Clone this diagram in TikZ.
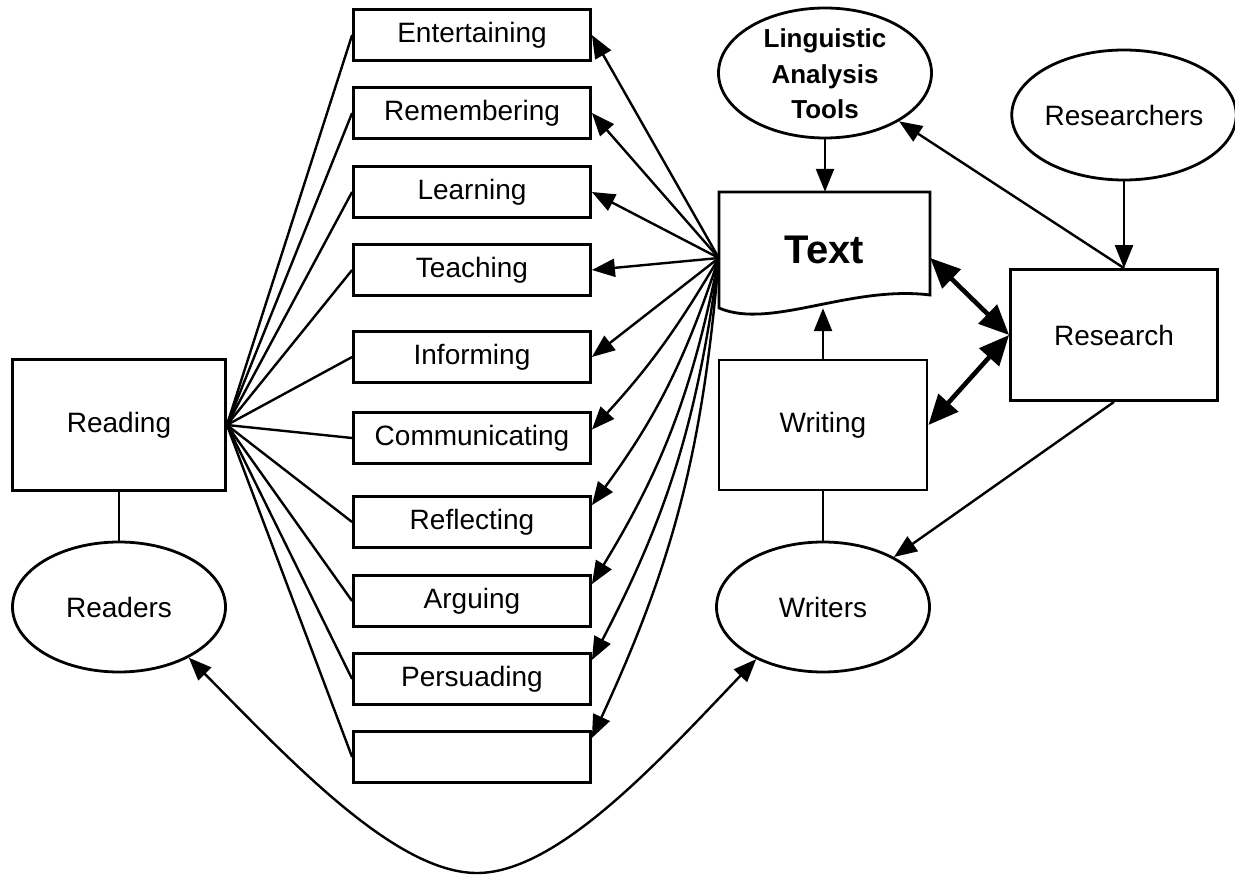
\documentclass[tikz,border=0pt]{standalone}
\usepackage{fontspec}
\setmainfont{Liberation Sans}
\usetikzlibrary{arrows.meta,shapes.geometric,calc}
\begin{document}
\begin{tikzpicture}[x=1pt,y=-1pt,
  every node/.style={font=\fontsize{28}{34}\selectfont, inner sep=0pt},
  box/.style={draw, line width=2.8pt, minimum width=237pt, minimum height=51pt},
  bigbox/.style={draw, line width=2.8pt, minimum width=213pt, minimum height=131pt},
  oval/.style={draw, ellipse, line width=2.8pt, minimum width=213pt, minimum height=130pt},
  link/.style={line width=2.4pt},
  arr/.style={link, -{Triangle[length=23pt,width=18pt]}},
  dbl/.style={line width=4.6pt, {Triangle[length=30pt,width=26pt]}-{Triangle[length=30pt,width=26pt]}},
]
\fill[white] (0,0) rectangle (1235,877);
\useasboundingbox (0,0) rectangle (1235,877);

% left side: reading and readers
\node[bigbox] (rdg) at (119,425) {Reading};
\node[oval] (rdr) at (119,607) {Readers};

% column of purposes
\node[box] (b1)  at (472,35)  {Entertaining};
\node[box] (b2)  at (472,113) {Remembering};
\node[box] (b3)  at (472,192) {Learning};
\node[box] (b4)  at (472,270) {Teaching};
\node[box] (b5)  at (472,357) {Informing};
\node[box] (b6)  at (472,438) {Communicating};
\node[box] (b7)  at (472,522) {Reflecting};
\node[box] (b8)  at (472,601) {Arguing};
\node[box] (b9)  at (472,679) {Persuading};
\node[box] (b10) at (472,757) {};

% the text document
\node[minimum width=211pt, minimum height=116pt, font=\bfseries\fontsize{40}{48}\selectfont] (txt) at (824.5,250) {Text};
\draw[line width=2.8pt, line join=miter] (719,308) -- (719,192) -- (930,192) -- (930,295)
  .. controls (850,285) and (770,330) .. (719,308) -- cycle;
\coordinate (fan) at ($(txt.west)+(0,8)$);
\coordinate (txtE) at ($(txt.east)+(0,8)$);

% right side
\node[bigbox, minimum width=208pt, minimum height=130pt] (wri) at (823,425) {Writing};
\node[oval] (wtr) at (823,607) {Writers};
\node[draw, line width=2.8pt, minimum width=207pt, minimum height=131pt] (res) at (1114,335) {Research};
\node[oval] (rsr) at (1124,115) {Researchers};
\node[oval] (ling) at (825,73) {};
\node[font=\bfseries\fontsize{26}{35.5}\selectfont, align=center] (lingtxt) at (825,74) {Linguistic\\Analysis\\Tools};
\coordinate (resTop) at (rsr.south |- res.north);

% reading fans out to every purpose
\draw[link] (rdg.south) -- (rdr.north);
\foreach \i in {1,...,10} \draw[link] (rdg.east) -- (b\i.west);

% text feeds every purpose
\foreach \i in {1,...,5} \draw[arr] (fan) -- (b\i.east);
\draw[arr] (fan) to[bend left=6] (b6.4);
\draw[arr] (fan) to[bend left=9] (b7.8);
\draw[arr] (fan) to[bend left=10] (b8.8);
\draw[arr] (fan) to[bend left=10] (b9.9);
\draw[arr] (fan) to[bend left=10] (b10.9);

% writing, tools and research
\draw[link] (wri.south) -- (wtr.north);
\draw[arr] (wri.north) -- (wri.north |- txt.south);
\draw[arr] (ling.south) -- (ling.south |- txt.north);
\draw[arr] (rsr.south) -- (resTop);
\draw[arr] (resTop) -- (ling);
\draw[arr] (res.south) -- (wtr);
\draw[dbl] (txtE) -- (res.west);
\draw[dbl] (wri.east) -- (res.west);

% readers and writers linked underneath
\draw[link, {Triangle[length=23pt,width=18pt]}-{Triangle[length=23pt,width=18pt]}]
  (rdr.-36) .. controls (290,760) and (395,873) .. (477,873)
  .. controls (558,873) and (660,760) .. (wtr.-142);
\end{tikzpicture}
\end{document}
